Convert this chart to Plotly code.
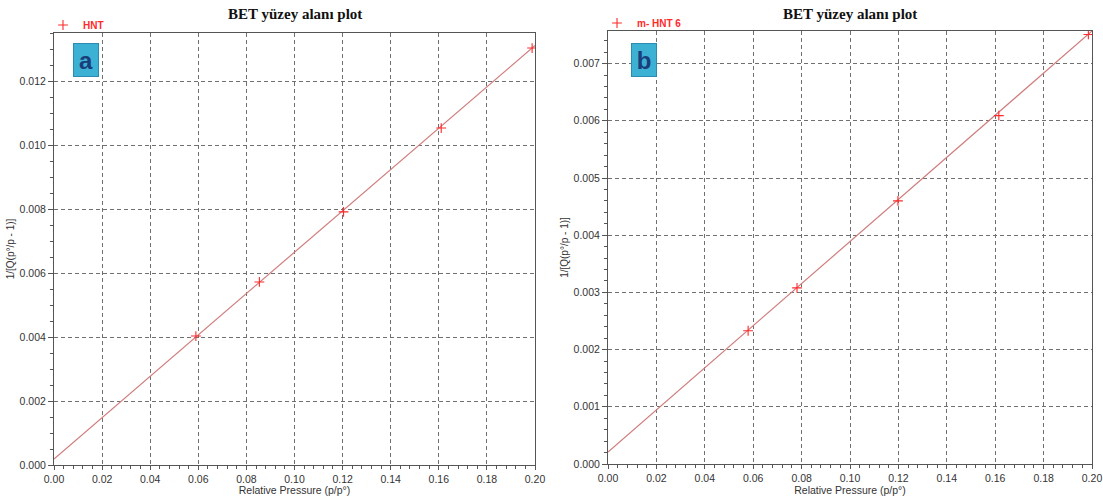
import plotly.graph_objects as go

W, H = 1103, 496

# ---- data ----
a_x = [0.059, 0.0854, 0.1204, 0.161, 0.1988]
a_y = [0.00403, 0.00572, 0.00791, 0.01053, 0.01303]
a_line_x = [0.0, 0.2]
a_line_y = [0.00019, 0.01311]

b_x = [0.0579, 0.0781, 0.1198, 0.1615, 0.1985]
b_y = [0.00233, 0.00308, 0.00460, 0.00609, 0.00751]
b_line_x = [0.0, 0.2]
b_line_y = [0.00021, 0.00757]

title_text = "BET yüzey alanı plot"
x_title = "Relative Pressure (p/p°)"
y_title = "1/[Q(p°/p - 1)]"
a_name = "HNT"
b_name = "m- HNT 6"

LINE_C = "#cf7d7d"
MARK_C = "#ff2a2a"
GRID_C = "#707070"
AX_C = "#555555"
TXT_C = "#333333"

def px_x(p):
    return p / W

def px_y(p):
    return (H - p) / H

fig = go.Figure()

fig.add_trace(go.Scatter(x=a_line_x, y=a_line_y, mode="lines",
                         line=dict(color=LINE_C, width=1.2), showlegend=False,
                         xaxis="x", yaxis="y", hoverinfo="skip"))
fig.add_trace(go.Scatter(x=a_x, y=a_y, mode="markers", name="<b>" + a_name + "</b>",
                         marker=dict(symbol="cross-thin", size=7,
                                     line=dict(color=MARK_C, width=1.1), color=MARK_C),
                         xaxis="x", yaxis="y", legend="legend"))
fig.add_trace(go.Scatter(x=b_line_x, y=b_line_y, mode="lines",
                         line=dict(color=LINE_C, width=1.2), showlegend=False,
                         xaxis="x2", yaxis="y2", hoverinfo="skip"))
fig.add_trace(go.Scatter(x=b_x, y=b_y, mode="markers", name="<b>" + b_name + "</b>",
                         marker=dict(symbol="cross-thin", size=7,
                                     line=dict(color=MARK_C, width=1.1), color=MARK_C),
                         xaxis="x2", yaxis="y2", legend="legend2"))

def xax(domain, anchor):
    return dict(domain=domain, anchor=anchor, range=[0, 0.2], dtick=0.02, tick0=0,
                tickformat=".2f", showgrid=True, gridcolor=GRID_C, griddash="4px,3px",
                gridwidth=1, showline=True, linecolor=AX_C, linewidth=1, mirror=True,
                ticks="outside", ticklen=4, tickcolor=AX_C, automargin=False,
                minor=dict(dtick=0.004, ticks="outside", ticklen=3, tickcolor=AX_C,
                           tickwidth=1, showgrid=False),
                tickfont=dict(family="Liberation Sans, Arial", size=10.5, color=TXT_C),
                title=dict(text=x_title, standoff=1,
                           font=dict(family="Liberation Sans, Arial", size=10.5, color=TXT_C)),
                zeroline=False, fixedrange=True)

def yax(domain, anchor, rng, dt, mdt):
    return dict(domain=domain, anchor=anchor, range=rng, dtick=dt, tick0=0,
                tickformat=".3f", showgrid=True, gridcolor=GRID_C, griddash="4px,3px",
                gridwidth=1, showline=True, linecolor=AX_C, linewidth=1, mirror=True,
                ticks="outside", ticklen=5, tickcolor=AX_C, automargin=False,
                minor=dict(dtick=mdt, ticks="outside", ticklen=3, tickcolor=AX_C,
                           tickwidth=1, showgrid=False),
                tickfont=dict(family="Liberation Sans, Arial", size=10.5, color=TXT_C),
                title=dict(text=y_title, standoff=3,
                           font=dict(family="Liberation Sans, Arial", size=10, color=TXT_C)),
                zeroline=False, fixedrange=True)

fig.update_layout(
    width=W, height=H,
    margin=dict(l=0, r=0, t=0, b=0, autoexpand=False),
    paper_bgcolor="white", plot_bgcolor="white",
    xaxis=xax([px_x(54), px_x(535)], "y"),
    yaxis=yax([px_y(465), px_y(33)], "x", [0, 0.0135], 0.002, 0.0005),
    xaxis2=xax([px_x(608), px_x(1092)], "y2"),
    yaxis2=yax([px_y(464), px_y(31)], "x2", [0, 0.00757], 0.001, 0.0002),
    legend=dict(x=px_x(43), y=px_y(25), xanchor="left", yanchor="middle",
                bgcolor="rgba(0,0,0,0)", itemwidth=30,
                font=dict(family="Liberation Sans, Arial", size=10, color=MARK_C)),
    legend2=dict(x=px_x(597), y=px_y(23), xanchor="left", yanchor="middle",
                 bgcolor="rgba(0,0,0,0)", itemwidth=30,
                 font=dict(family="Liberation Sans, Arial", size=10, color=MARK_C)),
    showlegend=True,
)

for xref in ["x domain", "x2 domain"]:
    fig.add_annotation(text="<b>" + title_text + "</b>", xref=xref, x=0.5, yref="paper",
                       y=px_y(14), showarrow=False, xanchor="center", yanchor="middle",
                       font=dict(family="Liberation Serif, Times New Roman", size=15, color="#111111"))

for label, cx in [("a", 86), ("b", 643.5)]:
    fig.add_annotation(text="<b>" + label + "</b>", xref="paper", yref="paper",
                       x=px_x(cx), y=px_y(60.5), showarrow=False,
                       xanchor="center", yanchor="middle", width=24, height=32,
                       bgcolor="#3cb1d4", bordercolor="#2a8db0", borderwidth=1, borderpad=0,
                       font=dict(family="Liberation Sans, Arial", size=24, color="#1a3d7c"))

fig.write_html("out.html")
